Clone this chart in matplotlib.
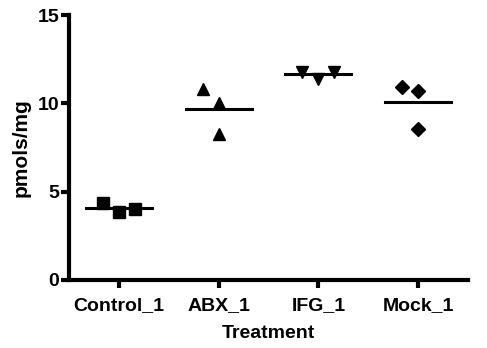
import matplotlib
matplotlib.use("Agg")
import matplotlib.pyplot as plt
import numpy as np

plt.rcParams['font.family'] = ['Liberation Sans', 'DejaVu Sans']
plt.rcParams['font.weight'] = 'bold'

groups = ["Control_1", "ABX_1", "IFG_1", "Mock_1"]
markers = ["s", "^", "v", "D"]
values = [
    [4.35, 3.83, 4.02],
    [10.8, 10.0, 8.25],
    [11.8, 11.35, 11.8],
    [10.95, 10.7, 8.57],
]
offsets = [
    [-0.16, 0.0, 0.16],
    [-0.16, 0.0, 0.0],
    [-0.16, 0.0, 0.16],
    [-0.16, 0.0, 0.0],
]
sizes = [9, 9, 9, 7]

fig = plt.figure(figsize=(4.87, 3.48), dpi=100)
ax = fig.add_axes([69 / 487, 68 / 348, 399 / 487, 265 / 348])

for i, g in enumerate(groups):
    x = i + 1 + np.array(offsets[i])
    ax.plot(x, values[i], linestyle="none", marker=markers[i], color="black",
            markersize=sizes[i], clip_on=False)
    m = np.mean(values[i])
    ax.plot([i + 1 - 0.33, i + 1 + 0.33], [m, m], color="black", lw=2.2)

ax.set_xlim(0.5, 4.5)
ax.set_ylim(0, 15)
ax.set_yticks([0, 5, 10, 15])
ax.set_xticks([1, 2, 3, 4])
ax.set_xticklabels(groups)
ax.spines["top"].set_visible(False)
ax.spines["right"].set_visible(False)
for s in ["left", "bottom"]:
    ax.spines[s].set_linewidth(3)
ax.tick_params(width=3, length=6, labelsize=14, pad=1)
ax.tick_params(axis="x", pad=6)
ax.set_xlabel("Treatment", fontsize=14, fontweight="bold", labelpad=8)
ax.set_ylabel("pmols/mg", fontsize=15, fontweight="bold", labelpad=5)

fig.savefig("out.png", dpi=100)
